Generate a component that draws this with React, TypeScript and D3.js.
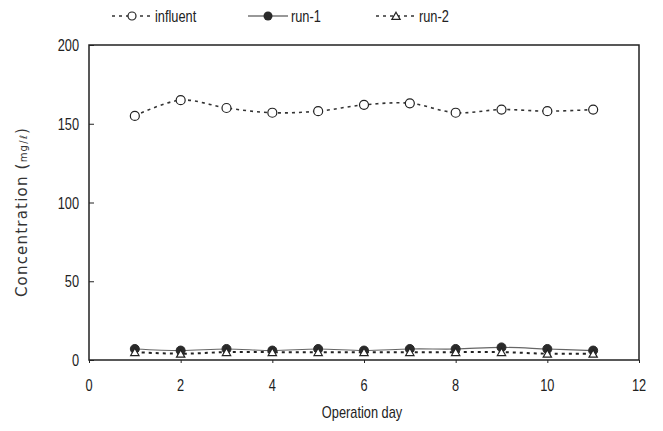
import React, { useEffect, useRef } from "react";
import * as d3 from "d3";

// operation days and measured concentrations (mg/l)
const days = [1, 2, 3, 4, 5, 6, 7, 8, 9, 10, 11];
const influent = [155, 165, 160, 157, 158, 162, 163, 157, 159, 158, 159];
const run1 = [7, 6, 7, 6, 7, 6, 7, 7, 8, 7, 6];
const run2 = [5, 4, 5, 5, 5, 5, 5, 5, 5, 4, 4];
const xTicks = [0, 2, 4, 6, 8, 10, 12];
const yTicks = [0, 50, 100, 150, 200];

const sans = "'Liberation Sans', Arial, sans-serif";
const squeeze = 0.8; // the original uses a condensed face

export default function App() {
  const ref = useRef<SVGSVGElement>(null);

  useEffect(() => {
    const svg = d3.select(ref.current);
    svg.selectAll("*").remove();

    const left = 89, right = 639, top = 45, bottom = 360;
    const x = d3.scaleLinear().domain([0, 12]).range([left, right]);
    const y = d3.scaleLinear().domain([0, 200]).range([bottom, top]);

    // narrow text helper: scale horizontally around the anchor point
    const label = (px: number, py: number, txt: string, anchor: string) =>
      svg.append("text")
        .attr("transform", `translate(${px},${py}) scale(${squeeze},1)`)
        .attr("text-anchor", anchor)
        .attr("font-family", sans).attr("font-size", 16).attr("fill", "#222")
        .text(txt);

    // plot frame
    svg.append("rect")
      .attr("x", left).attr("y", top)
      .attr("width", right - left).attr("height", bottom - top)
      .attr("fill", "none").attr("stroke", "#222").attr("stroke-width", 1.5);

    // y axis, ticks inside
    const yAxis = svg.append("g")
      .attr("transform", `translate(${left},0)`)
      .call(d3.axisRight(y).tickValues(yTicks).tickSize(5).tickFormat(() => ""));
    yAxis.select(".domain").remove();
    yAxis.selectAll("line").attr("stroke", "#222");
    yTicks.forEach(t => label(left - 10, y(t) + 6, String(t), "end"));

    // x axis, short ticks below
    const xAxis = svg.append("g")
      .attr("transform", `translate(0,${bottom})`)
      .call(d3.axisBottom(x).tickValues(xTicks).tickSize(3).tickFormat(() => ""));
    xAxis.select(".domain").remove();
    xAxis.selectAll("line").attr("stroke", "#222");
    xTicks.forEach(t => label(x(t), 391, String(t), "middle"));

    label((left + right) / 2 - 2, 418, "Operation day", "middle");

    const yt = svg.append("text")
      .attr("transform", `translate(27,212) rotate(-90)`)
      .attr("text-anchor", "middle")
      .attr("font-family", "'DejaVu Sans', sans-serif").attr("font-size", 15)
      .attr("fill", "#333").attr("letter-spacing", 1.2);
    yt.append("tspan").text("Concentration (");
    yt.append("tspan").attr("font-size", 10).text("mg/ℓ");
    yt.append("tspan").text(")");

    const line = d3.line<number>()
      .x((d, i) => x(days[i]))
      .y(d => y(d))
      .curve(d3.curveCatmullRom);

    // lines
    svg.append("path").datum(influent).attr("d", line)
      .attr("fill", "none").attr("stroke", "#333").attr("stroke-width", 1.6)
      .attr("stroke-dasharray", "3,4");
    svg.append("path").datum(run1).attr("d", line)
      .attr("fill", "none").attr("stroke", "#666").attr("stroke-width", 1.2);
    svg.append("path").datum(run2).attr("d", line)
      .attr("fill", "none").attr("stroke", "#222").attr("stroke-width", 2)
      .attr("stroke-dasharray", "3,4");

    const tri = d3.symbol().type(d3.symbolTriangle).size(30);

    // markers
    svg.append("g").selectAll("circle")
      .data(influent).join("circle")
      .attr("cx", (d, i) => x(days[i])).attr("cy", d => y(d)).attr("r", 4.5)
      .attr("fill", "white").attr("stroke", "#222").attr("stroke-width", 1.2);
    svg.append("g").selectAll("circle")
      .data(run1).join("circle")
      .attr("cx", (d, i) => x(days[i])).attr("cy", d => y(d)).attr("r", 4.5)
      .attr("fill", "#2a2a2a").attr("stroke", "#2a2a2a");
    svg.append("g").selectAll("path")
      .data(run2).join("path")
      .attr("d", tri)
      .attr("transform", (d, i) => `translate(${x(days[i])},${y(d) + 1})`)
      .attr("fill", "white").attr("stroke", "#222").attr("stroke-width", 1.2);

    // legend
    const items = [
      { x0: 112, name: "influent", dash: "3,4", w: 1.6, mark: "open" },
      { x0: 248, name: "run-1", dash: null, w: 1.2, mark: "fill" },
      { x0: 376, name: "run-2", dash: "3,4", w: 1.6, mark: "tri" },
    ];
    items.forEach(it => {
      svg.append("line")
        .attr("x1", it.x0).attr("x2", it.x0 + 40).attr("y1", 16).attr("y2", 16)
        .attr("stroke", "#333").attr("stroke-width", it.w)
        .attr("stroke-dasharray", it.dash);
      const cx = it.x0 + 20;
      if (it.mark === "open") {
        svg.append("circle").attr("cx", cx).attr("cy", 16).attr("r", 4)
          .attr("fill", "white").attr("stroke", "#222").attr("stroke-width", 1.2);
      } else if (it.mark === "fill") {
        svg.append("circle").attr("cx", cx).attr("cy", 16).attr("r", 4.5).attr("fill", "#2a2a2a");
      } else {
        svg.append("path").attr("d", tri).attr("transform", `translate(${cx},17)`)
          .attr("fill", "white").attr("stroke", "#222").attr("stroke-width", 1.2);
      }
      label(it.x0 + 43, 22, it.name, "start");
    });
  }, []);

  return (
    <svg ref={ref} width={663} height={431}
      style={{ position: "absolute", left: 0, top: 0, background: "white" }} />
  );
}
